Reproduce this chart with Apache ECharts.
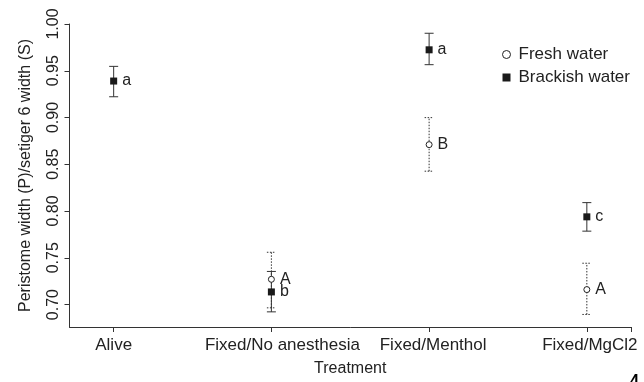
<!DOCTYPE html>
<html><head><meta charset="utf-8">
<script src="https://cdn.jsdelivr.net/npm/echarts@6/dist/echarts.min.js"></script>
<style>html,body{margin:0;padding:0;background:#fff}#c{width:644px;height:382px}</style>
</head><body><div id="c"></div>
<script>
const categories = ['Alive', 'Fixed/No anesthesia', 'Fixed/Menthol', 'Fixed/MgCl2'];
const yTicks = [0.70, 0.75, 0.80, 0.85, 0.90, 0.95, 1.00];
const freshMean = [null, 0.727, 0.871, 0.716];
const freshLow = [null, 0.6965, 0.8426, 0.6894];
const freshHigh = [null, 0.7559, 0.8999, 0.7442];
const freshLetters = ['', 'A', 'B', 'A'];
const brackMean = [0.939, 0.7135, 0.9724, 0.7938];
const brackLow = [0.9222, 0.6922, 0.9565, 0.7785];
const brackHigh = [0.9547, 0.7354, 0.9901, 0.8090];
const brackLetters = ['a', 'b', 'a', 'c'];

const TXT = '#222';
const LINE = '#333';
const FONT = 'Liberation Sans, Arial, sans-serif';
// label horizontal nudges (px) so category labels sit as in the reference
const labelShift = [0, 22, 8, 6];

function pts(mean) {
  const out = [];
  mean.forEach((v, i) => { if (v != null) out.push([i + 1, v, i]); });
  return out;
}
function bars(mean, low, high) {
  const out = [];
  mean.forEach((v, i) => { if (v != null) out.push([i + 1, low[i], high[i]]); });
  return out;
}
function errRender(dashed) {
  return function (params, api) {
    const x = api.value(0);
    const lo = api.coord([x, api.value(1)]);
    const hi = api.coord([x, api.value(2)]);
    const w = 4.5;
    const style = { stroke: LINE, lineWidth: 1, lineDash: dashed ? [1.5, 1.5] : null, fill: null };
    return {
      type: 'group', children: [
        { type: 'line', shape: { x1: lo[0], y1: lo[1], x2: hi[0], y2: hi[1] }, style },
        { type: 'line', shape: { x1: hi[0] - w, y1: hi[1], x2: hi[0] + w, y2: hi[1] }, style },
        { type: 'line', shape: { x1: lo[0] - w, y1: lo[1], x2: lo[0] + w, y2: lo[1] }, style }
      ]
    };
  };
}

const rich = {};
labelShift.forEach((s, i) => { rich['c' + i] = { fontSize: 17, color: TXT, padding: [0, 0, 0, s] }; });

const chart = echarts.init(document.getElementById('c'), null, { renderer: 'canvas' });
chart.setOption({
  animation: false,
  backgroundColor: '#fff',
  textStyle: { fontFamily: FONT },
  grid: { left: 69.5, right: 13, top: 24, bottom: 53, containLabel: false },
  legend: {
    orient: 'vertical', left: 502, top: 46, padding: 0, itemWidth: 8, itemHeight: 8, itemGap: 6,
    textStyle: { fontSize: 17, color: TXT, fontFamily: FONT, padding: [0, 0, 0, 3] },
    data: [
      { name: 'Fresh water', icon: 'circle', itemStyle: { color: '#fff', borderColor: '#222', borderWidth: 1 } },
      { name: 'Brackish water', icon: 'rect', itemStyle: { color: '#1a1a1a', borderWidth: 0 } }
    ]
  },
  xAxis: {
    type: 'value', min: 0.72, max: 4.28,
    name: 'Treatment', nameLocation: 'middle', nameGap: 34,
    nameTextStyle: { fontSize: 16, color: TXT },
    axisLine: { show: true, lineStyle: { color: LINE, width: 1 } },
    axisTick: { show: true, length: 5, lineStyle: { color: LINE }, customValues: [1, 2, 3, 4, 4.28] },
    axisLabel: {
      fontSize: 17, color: TXT, margin: 10, customValues: [1, 2, 3, 4], rich,
      formatter: v => { const i = Math.round(v) - 1; return categories[i] ? '{c' + i + '|' + categories[i] + '}' : ''; }
    },
    splitLine: { show: false }
  },
  yAxis: {
    type: 'value', min: 0.676, max: 1.0,
    name: 'Peristome width (P)/setiger 6 width (S)', nameLocation: 'middle', nameGap: 36,
    nameTextStyle: { fontSize: 16, color: TXT },
    axisLine: { show: true, lineStyle: { color: LINE, width: 1 } },
    axisTick: { show: true, length: 5, lineStyle: { color: LINE }, customValues: yTicks },
    axisLabel: {
      fontSize: 16, color: TXT, margin: 8, rotate: 90, customValues: yTicks,
      formatter: v => v.toFixed(2)
    },
    splitLine: { show: false }
  },
  series: [
    {
      type: 'custom', renderItem: errRender(true), data: bars(freshMean, freshLow, freshHigh),
      encode: { x: 0, y: [1, 2] }, z: 2, silent: true
    },
    {
      type: 'custom', renderItem: errRender(false), data: bars(brackMean, brackLow, brackHigh),
      encode: { x: 0, y: [1, 2] }, z: 2, silent: true
    },
    {
      name: 'Fresh water', type: 'scatter', symbol: 'circle', symbolSize: 6, z: 5,
      itemStyle: { color: '#fff', borderColor: '#222', borderWidth: 1, opacity: 1 },
      data: pts(freshMean),
      label: {
        show: true, position: 'right', distance: 5, fontSize: 16, color: TXT,
        formatter: p => freshLetters[p.value[2]]
      }
    },
    {
      name: 'Brackish water', type: 'scatter', symbol: 'rect', symbolSize: 7, z: 5,
      itemStyle: { color: '#1a1a1a', opacity: 1 },
      data: pts(brackMean),
      label: {
        show: true, position: 'right', distance: 5, fontSize: 16, color: TXT,
        formatter: p => brackLetters[p.value[2]]
      }
    }
  ],
  graphic: [
    { type: 'text', left: 630, top: 374, style: { text: '4', fill: '#000', font: 'bold 16px Liberation Sans' } }
  ]
});
</script>
</body></html>
